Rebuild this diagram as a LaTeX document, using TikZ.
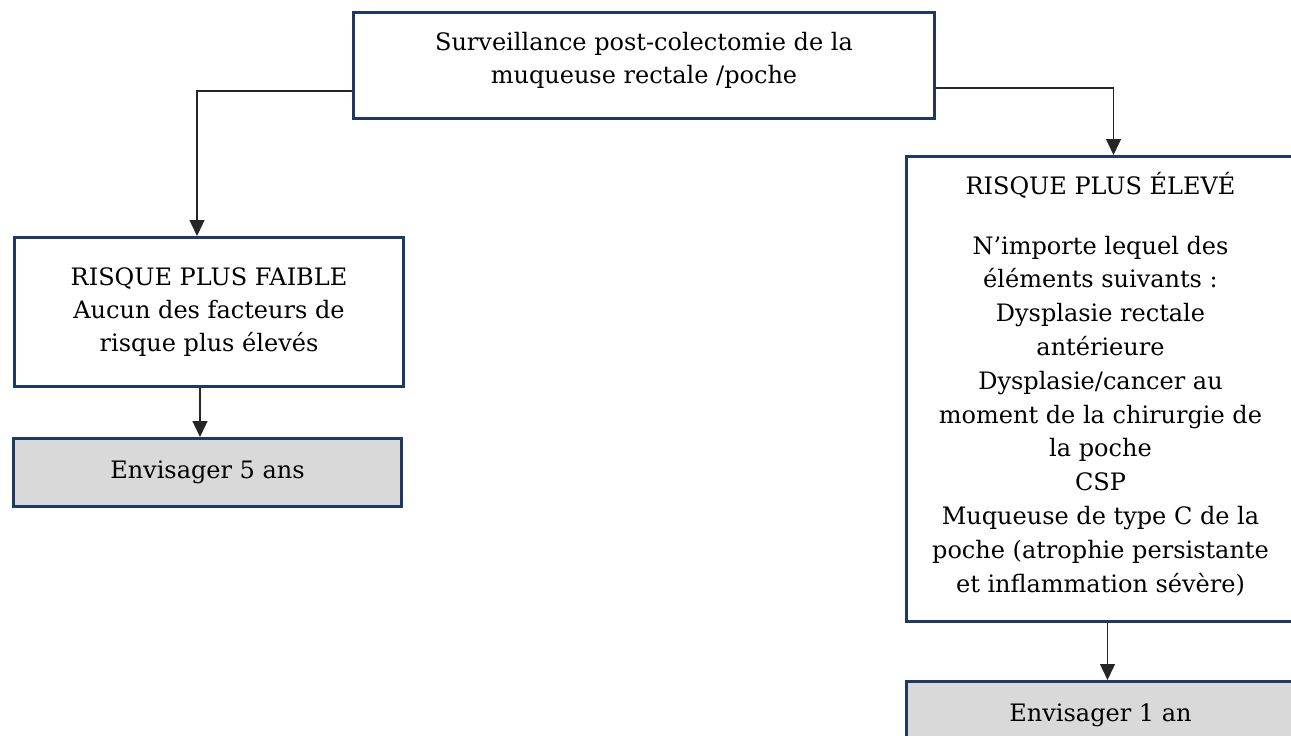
\documentclass[tikz,border=0pt]{standalone}
\usepackage{fontspec}
\setmainfont{DejaVu Serif}
\usetikzlibrary{positioning}
\usetikzlibrary{arrows.meta}
\definecolor{boxblue}{HTML}{1F3864}
\definecolor{boxgrey}{HTML}{D9D9D9}

\begin{document}
\begin{tikzpicture}[x=1pt,y=-1pt, font=\fontsize{24}{33}\selectfont,
    box/.style={draw=boxblue, line width=3pt, fill=white, inner sep=0pt, anchor=north west},
    endbox/.style={box, fill=boxgrey},
    txt/.style={align=center, inner sep=0pt, anchor=base},
    link/.style={-{Triangle[length=16pt,width=15pt]}, line width=1.3pt, black!85}]
      \useasboundingbox (0,0) rectangle (1291,736);
      \clip (0,0) rectangle (1291,736);

      \node[box, minimum width=581pt, minimum height=106pt] (surv) at (352,11) {};
      \node[txt] (survtxt) at ([yshift=-72pt]surv.north)
        {Surveillance post-colectomie de la\\ muqueuse rectale /poche};

      \node[box, minimum width=389pt, minimum height=149pt, align=center] (low) at (13,236)
        {RISQUE PLUS FAIBLE\\ Aucun des facteurs de\\ risque plus élevés};
      \node[endbox, minimum width=388pt, minimum height=68pt] (five) at (12,437) {Envisager 5 ans};

      \node[box, minimum width=388pt, minimum height=465pt] (high) at (905,155) {};
      \node[txt, font=\fontsize{24}{33.8}\selectfont] (hightxt) at ([yshift=-437pt]high.north)
        {RISQUE PLUS ÉLEVÉ\\[26pt] N’importe lequel des\\ éléments suivants :\\ Dysplasie rectale\\ antérieure\\
         Dysplasie/cancer au\\ moment de la chirurgie de\\ la poche\\ CSP\\ Muqueuse de type C de la\\
         poche (atrophie persistante\\ et inflammation sévère)};
      \node[endbox, minimum width=388pt, minimum height=68pt] (one) at (905,680) {Envisager 1 an};

      \draw[link] ([yshift=-80pt]surv.north west) -| ([xshift=-12pt]low.north);
      \draw[link] ([yshift=-77pt]surv.north east) -| ([xshift=13pt]high.north);
      \draw[link] ([xshift=-9pt]low.south) -- ([xshift=-9pt]low.south |- five.north);
      \draw[link] ([xshift=7pt]high.south) -- ([xshift=7pt]high.south |- one.north);
    \end{tikzpicture}
\end{document}
